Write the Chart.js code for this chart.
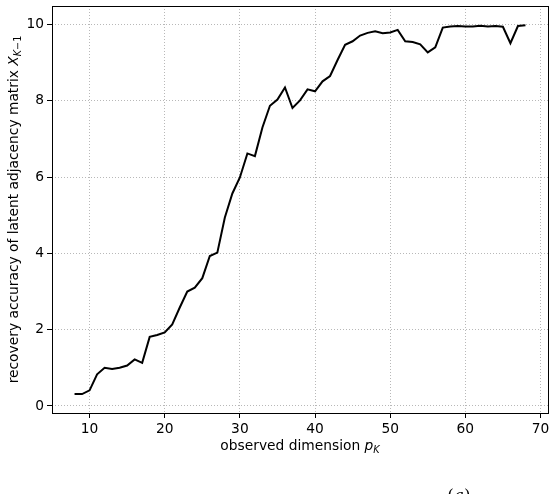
<!DOCTYPE html>
<html>
<head>
<meta charset="utf-8">
<script src="https://cdn.jsdelivr.net/npm/chart.js@4.4.0/dist/chart.umd.min.js"></script>
<style>
  body { margin: 0; background: #fff; }
</style>
</head>
<body>
<canvas id="chart" width="556" height="494"></canvas>
<script>
// observed dimension p_K
var dims = [8, 9, 10, 11, 12, 13, 14, 15, 16, 17, 18, 19, 20, 21, 22, 23, 24, 25, 26, 27,
            28, 29, 30, 31, 32, 33, 34, 35, 36, 37, 38, 39, 40, 41, 42, 43, 44, 45, 46, 47,
            48, 49, 50, 51, 52, 53, 54, 55, 56, 57, 58, 59, 60, 61, 62, 63, 64, 65, 66, 67, 68];
// recovery accuracy
var accuracy = [0.31, 0.31, 0.41, 0.83, 1.00, 0.97, 1.00, 1.06, 1.22, 1.13, 1.81, 1.86, 1.93, 2.14, 2.58, 3.00, 3.10, 3.35, 3.93, 4.02,
                4.94, 5.57, 5.99, 6.62, 6.55, 7.30, 7.87, 8.03, 8.35, 7.81, 8.01, 8.30, 8.25, 8.51, 8.65, 9.07, 9.47, 9.56, 9.71, 9.78,
                9.82, 9.77, 9.79, 9.86, 9.56, 9.54, 9.48, 9.27, 9.40, 9.92, 9.95, 9.96, 9.95, 9.95, 9.97, 9.95, 9.96, 9.94, 9.51, 9.96, 9.98];
var xTicks = [10, 20, 30, 40, 50, 60, 70];
var yTicks = [0, 2, 4, 6, 8, 10];

var FONT = '"DejaVu Sans", sans-serif';
var SIZE = 13.8;

function drawRich(ctx, parts, cx, cy) {
    var total = 0;
    parts.forEach(function (p) {
        ctx.font = p.font;
        p.w = ctx.measureText(p.t).width;
        total += p.w;
    });
    var x = cx - total / 2;
    ctx.textAlign = 'left';
    ctx.textBaseline = 'alphabetic';
    parts.forEach(function (p) {
        ctx.font = p.font;
        ctx.fillText(p.t, x, cy + (p.dy || 0));
        x += p.w;
    });
}

var extras = {
    id: 'extras',
    afterDraw: function (chart) {
        var ctx = chart.ctx;
        var a = chart.chartArea;
        ctx.save();
        // frame
        ctx.strokeStyle = '#000';
        ctx.lineWidth = 1;
        ctx.strokeRect(Math.round(a.left) + 0.5, Math.round(a.top) + 0.5,
                       Math.round(a.right - a.left), Math.round(a.bottom - a.top));
        ctx.fillStyle = '#000';
        var base = SIZE + 'px ' + FONT;
        var ital = 'italic ' + SIZE + 'px ' + FONT;
        var sub = (SIZE * 0.7) + 'px ' + FONT;
        var subIt = 'italic ' + (SIZE * 0.7) + 'px ' + FONT;
        // x title
        drawRich(ctx, [
            { t: 'observed dimension ', font: base },
            { t: 'p', font: ital },
            { t: 'K', font: subIt, dy: 3 }
        ], (a.left + a.right) / 2, 450);
        // y title
        ctx.save();
        ctx.translate(18, (a.top + a.bottom) / 2);
        ctx.rotate(-Math.PI / 2);
        drawRich(ctx, [
            { t: 'recovery accuracy of latent adjacency matrix ', font: base },
            { t: 'X', font: ital },
            { t: 'K', font: subIt, dy: 3 },
            { t: '\u22121', font: sub, dy: 3 }
        ], 0, 0);
        ctx.restore();
        // panel label
        drawRich(ctx, [
            { t: '(', font: '17px "DejaVu Serif", serif' },
            { t: 'a', font: 'italic 17px "DejaVu Serif", serif' },
            { t: ')', font: '17px "DejaVu Serif", serif' }
        ], 459, 501);
        ctx.restore();
    }
};

new Chart(document.getElementById('chart'), {
    type: 'line',
    data: {
        datasets: [{
            data: dims.map(function (d, i) { return { x: d, y: accuracy[i] }; }),
            borderColor: '#000',
            borderWidth: 2,
            pointRadius: 0,
            tension: 0,
            fill: false
        }]
    },
    options: {
        responsive: false,
        devicePixelRatio: 1,
        animation: false,
        layout: { padding: { top: 6, right: 8, left: 0, bottom: 0 } },
        plugins: { legend: { display: false }, tooltip: { enabled: false } },
        scales: {
            x: {
                type: 'linear',
                min: 5,
                max: 71,
                afterBuildTicks: function (s) { s.ticks = xTicks.map(function (v) { return { value: v }; }); },
                afterFit: function (s) { s.height = 81; s.paddingLeft = 0; s.paddingRight = 0; },
                ticks: { color: '#000', font: { family: FONT, size: SIZE }, padding: 3, autoSkip: false, maxRotation: 0 },
                grid: { color: '#b8b8b8', lineWidth: 1, tickColor: '#000', tickLength: 5, tickWidth: 1 },
                border: { display: false, dash: [1, 2] }
            },
            y: {
                min: -0.185,
                max: 10.485,
                afterBuildTicks: function (s) { s.ticks = yTicks.map(function (v) { return { value: v }; }); },
                afterFit: function (s) { s.width = 52; s.paddingTop = 0; s.paddingBottom = 0; },
                ticks: { color: '#000', font: { family: FONT, size: SIZE }, padding: 3, autoSkip: false },
                grid: { color: '#b8b8b8', lineWidth: 1, tickColor: '#000', tickLength: 5, tickWidth: 1 },
                border: { display: false, dash: [1, 2] }
            }
        }
    },
    plugins: [extras]
});
</script>
</body>
</html>
